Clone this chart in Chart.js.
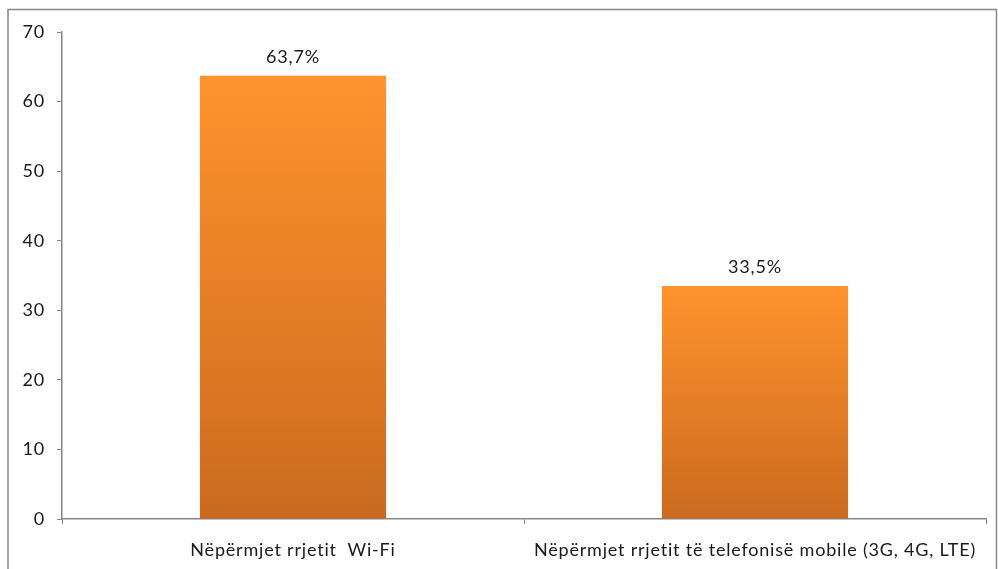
<!DOCTYPE html>
<html>
<head>
<meta charset="utf-8">
<script src="https://cdn.jsdelivr.net/npm/chart.js@4/dist/chart.umd.min.js"></script>
<style>
html,body{margin:0;padding:0;background:#fff;}
#wrap{width:998px;height:569px;position:relative;}
</style>
</head>
<body>
<div id="wrap"><canvas id="c" width="998" height="569"></canvas></div>
<script>
const categories = ["Nëpërmjet rrjetit  Wi-Fi", "Nëpërmjet rrjetit të telefonisë mobile (3G, 4G, LTE)"];
const values = [63.7, 33.5];
const valueLabels = ["63,7%", "33,5%"];
const yTicks = [0, 10, 20, 30, 40, 50, 60, 70];

const FONT = "Lato, 'Open Sans', sans-serif";
const SPACING = '0.8px';

const framePlugin = {
  id: 'frame',
  beforeDraw(chart) {
    const ctx = chart.ctx;
    ctx.fillStyle = '#fff';
    ctx.fillRect(0, 0, chart.width, chart.height);
    ctx.save();
    ctx.strokeStyle = '#868686';
    ctx.lineWidth = 1.5;
    ctx.strokeRect(8, 9.5, chart.width - 9.5, chart.height + 10);
    ctx.restore();
    if ('letterSpacing' in ctx) ctx.letterSpacing = SPACING;
  }
};

const labelPlugin = {
  id: 'valueLabels',
  afterDatasetsDraw(chart) {
    const ctx = chart.ctx;
    const meta = chart.getDatasetMeta(0);
    ctx.save();
    if ('letterSpacing' in ctx) ctx.letterSpacing = SPACING;
    ctx.font = "18px " + FONT;
    ctx.fillStyle = '#1a1a1a';
    ctx.textAlign = 'center';
    ctx.textBaseline = 'bottom';
    meta.data.forEach((bar, i) => {
      ctx.fillText(valueLabels[i], bar.x, bar.y - 10);
    });
    ctx.restore();
  }
};

new Chart(document.getElementById('c'), {
  type: 'bar',
  data: {
    labels: categories,
    datasets: [{
      data: values,
      backgroundColor: function(ctx){
        const chart = ctx.chart;
        const area = chart.chartArea;
        if (!area) return '#f08a2a';
        const y = chart.scales.y;
        const top = y.getPixelForValue(values[ctx.dataIndex]);
        const bottom = y.getPixelForValue(0);
        const g = chart.ctx.createLinearGradient(0, top, 0, bottom);
        g.addColorStop(0, '#FF932D');
        g.addColorStop(1, '#CB6A1F');
        return g;
      },
      borderWidth: 0,
      categoryPercentage: 1,
      barPercentage: 0.403
    }]
  },
  options: {
    responsive: false,
    animation: false,
    devicePixelRatio: 1,
    layout: { padding: { left: 8, right: 12, top: 32, bottom: 0 } },
    plugins: {
      legend: { display: false },
      tooltip: { enabled: false }
    },
    scales: {
      x: {
        offset: true,
        grid: {
          offset: true,
          drawOnChartArea: false,
          drawTicks: true,
          tickLength: 5,
          color: '#868686',
          lineWidth: 1
        },
        border: { display: true, color: '#868686', width: 1.5 },
        ticks: {
          font: { family: FONT, size: 18 },
          color: '#1a1a1a',
          padding: 15,
          maxRotation: 0,
          autoSkip: false
        },
        afterFit(scale) { scale.height = 50; }
      },
      y: {
        min: 0,
        max: 70,
        afterBuildTicks(scale) { scale.ticks = yTicks.map(v => ({ value: v })); },
        grid: {
          drawOnChartArea: false,
          drawTicks: true,
          tickLength: 5,
          color: '#868686',
          lineWidth: 1
        },
        border: { display: true, color: '#868686', width: 1.5 },
        ticks: {
          font: { family: FONT, size: 18 },
          color: '#1a1a1a',
          padding: 12
        },
        afterFit(scale) { scale.width = 54; }
      }
    }
  },
  plugins: [framePlugin, labelPlugin]
});
</script>
</body>
</html>
